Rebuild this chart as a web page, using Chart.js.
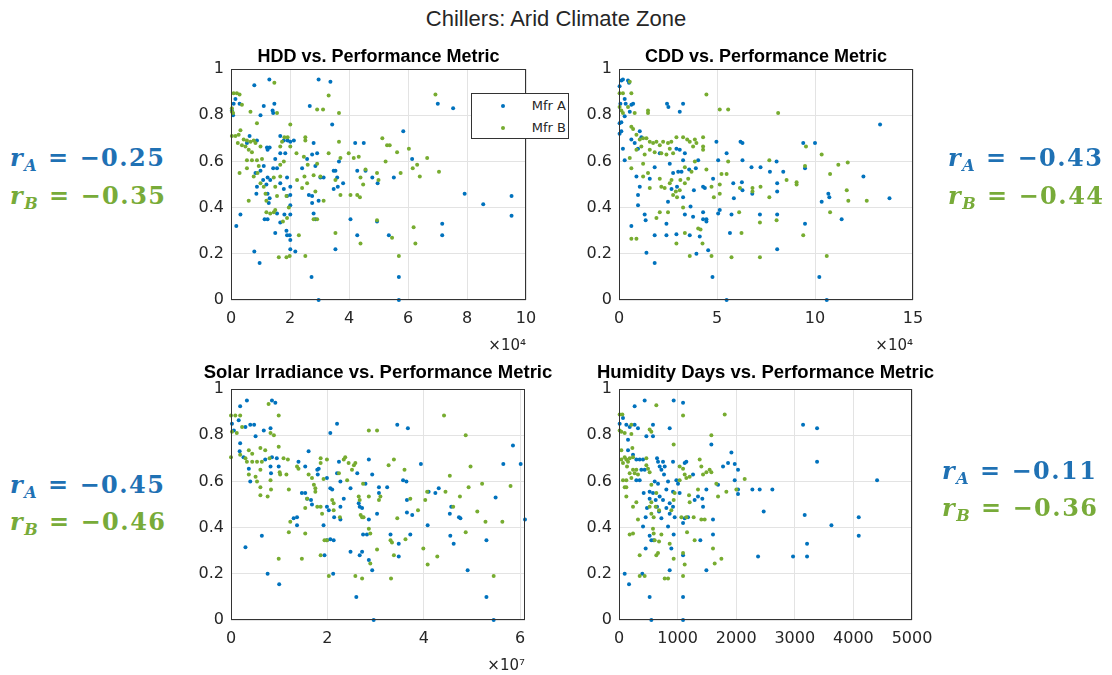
<!DOCTYPE html>
<html>
<head>
<meta charset="utf-8">
<script src="https://cdn.jsdelivr.net/npm/chart.js@4.4.0/dist/chart.umd.min.js"></script>
<style>
    body { margin: 0; width: 1112px; height: 675px; background: #fff; position: relative; overflow: hidden; font-family: "Liberation Sans", Arial, sans-serif; }
    canvas { position: absolute; }
    #mainTitle { position: absolute; left: 0; top: 6px; width: 1112px; text-align: center; font-size: 22px; line-height: 25px; color: #262626; }
    .rval { position: absolute; font-family: "DejaVu Serif", serif; font-weight: bold; font-size: 24px; line-height: 26px; letter-spacing: 1.5px; white-space: nowrap; }
    .rval sub { font-size: 16px; line-height: 0; vertical-align: -5px; }
    .blue { color: #1f71b4; }
    .green { color: #78ab39; }
    #legend { position: absolute; left: 471px; top: 93px; width: 98px; height: 46px; box-sizing: border-box; border: 1px solid #333; background: #fff; font-family: "DejaVu Sans", sans-serif; font-size: 13px; color: #262626; }
    #legend .row { position: absolute; left: 0; width: 96px; height: 16px; line-height: 16px; }
    #legend .dot { position: absolute; left: 29px; top: 6px; width: 4px; height: 4px; border-radius: 2px; }
    #legend .txt { position: absolute; right: 2px; top: 0; }
</style>
</head>
<body>
<div id="mainTitle">Chillers: Arid Climate Zone</div>

<canvas id="hddChart" width="395" height="315" style="left:181px;top:40px"></canvas>
<canvas id="cddChart" width="394" height="315" style="left:569px;top:40px"></canvas>
<canvas id="solarChart" width="394" height="315" style="left:181px;top:360px"></canvas>
<canvas id="humChart" width="393" height="315" style="left:569px;top:360px"></canvas>

<div id="legend">
    <div class="row" style="top:4px"><span class="dot" style="background:#0072BD"></span><span class="txt">Mfr A</span></div>
    <div class="row" style="top:26px"><span class="dot" style="background:#77AC30"></span><span class="txt">Mfr B</span></div>
</div>

<div class="rval blue" style="left:10px;top:145px"><i>r</i><sub><i>A</i></sub> = −0.25</div>
<div class="rval green" style="left:10px;top:183px"><i>r</i><sub><i>B</i></sub> = −0.35</div>
<div class="rval blue" style="left:948px;top:145px"><i>r</i><sub><i>A</i></sub> = −0.43</div>
<div class="rval green" style="left:948px;top:183px"><i>r</i><sub><i>B</i></sub> = −0.44</div>
<div class="rval blue" style="left:10px;top:472px"><i>r</i><sub><i>A</i></sub> = −0.45</div>
<div class="rval green" style="left:10px;top:509px"><i>r</i><sub><i>B</i></sub> = −0.46</div>
<div class="rval blue" style="left:942px;top:458px"><i>r</i><sub><i>A</i></sub> = −0.11</div>
<div class="rval green" style="left:942px;top:495px"><i>r</i><sub><i>B</i></sub> = −0.36</div>

<script>
// Colours of the two manufacturers (MATLAB default order)
var blueDot = "#0072BD";
var greenDot = "#77AC30";

// y axis is the same for every panel
var yTicks = [0, 0.2, 0.4, 0.6, 0.8, 1];

// HDD panel, x in units of 1e4
var hddMfrA = [
    [0.09,0.85],[0.15,0.87],[0.29,0.85],[0.03,0.82],[0.07,0.80],[0.79,0.93],[1.30,0.955],[1.47,0.85],[1.41,0.82],[1.43,0.81],
    [1.11,0.84],[1.00,0.80],[2.97,0.955],[3.37,0.945],[2.67,0.84],[3.43,0.76],[7.01,0.85],[7.53,0.83],[5.84,0.73],
    [0.63,0.71],[0.88,0.69],[0.54,0.68],[1.22,0.66],[1.24,0.65],[1.31,0.66],[1.67,0.71],[1.79,0.69],[1.92,0.69],[2.01,0.685],
    [2.13,0.69],[1.67,0.635],[1.84,0.635],[1.50,0.61],[1.43,0.57],[1.56,0.57],[1.11,0.58],[1.00,0.56],[0.83,0.55],[0.88,0.49],
    [0.86,0.46],[1.09,0.52],[1.24,0.53],[1.33,0.52],[1.20,0.50],[1.24,0.46],[1.31,0.44],[1.28,0.42],[1.67,0.505],[1.90,0.53],
    [1.79,0.48],[1.90,0.45],[2.01,0.49],[2.01,0.455],[2.01,0.41],[2.01,0.37],[1.81,0.37],[1.56,0.375],[1.14,0.35],[1.24,0.35],
    [1.67,0.335],[1.50,0.29],[1.88,0.30],[1.90,0.28],[1.99,0.28],[2.01,0.22],[2.18,0.21],[0.79,0.21],[0.97,0.16],[0.18,0.32],
    [0.32,0.37],[2.73,0.10],[2.97,0.0],[2.01,0.26],
    [2.41,0.57],[2.58,0.61],[2.75,0.63],[2.80,0.68],[2.86,0.58],[2.92,0.635],[2.75,0.45],[2.64,0.455],[2.80,0.375],[2.75,0.42],
    [2.86,0.35],[2.97,0.43],[3.03,0.53],[3.14,0.53],[3.48,0.56],[3.54,0.56],[3.48,0.48],[3.62,0.49],[3.80,0.505],[3.60,0.53],
    [3.66,0.60],[3.54,0.22],[4.05,0.35],[4.21,0.68],[4.50,0.68],[4.28,0.56],[4.56,0.56],[4.28,0.28],[4.79,0.53],[4.97,0.505],
    [4.95,0.34],[5.52,0.53],[5.35,0.28],[6.14,0.61],[5.69,0.10],[5.69,0.0],[7.16,0.33],[7.16,0.28],[7.92,0.46],[8.55,0.415],
    [9.51,0.45],[9.51,0.365]
];
var hddMfrB = [
    [0.09,0.895],[0.20,0.895],[0.29,0.89],[0.03,0.83],[0.03,0.815],[0.07,0.81],[0.37,0.845],[0.66,0.815],[0.88,0.765],
    [0.03,0.71],[0.15,0.71],[0.26,0.715],[0.32,0.735],[0.43,0.695],[0.54,0.69],[0.66,0.685],[0.77,0.69],[0.83,0.68],[1.00,0.665],
    [0.23,0.68],[0.37,0.67],[0.49,0.665],[0.60,0.65],[0.71,0.64],[0.54,0.605],[0.71,0.605],[0.88,0.605],[1.05,0.61],[0.54,0.57],
    [0.94,0.58],[0.29,0.55],[0.60,0.43],[0.77,0.535],[0.90,0.55],[1.00,0.505],[1.11,0.49],[1.17,0.46],[1.20,0.43],[1.20,0.38],
    [1.33,0.375],[1.45,0.38],[1.50,0.39],[1.45,0.53],[1.50,0.49],[1.56,0.45],[1.67,0.535],[1.67,0.585],[1.79,0.60],[1.67,0.665],
    [1.73,0.685],[1.81,0.705],[1.92,0.705],[2.01,0.665],[2.01,0.76],[1.56,0.81],[1.47,0.94],[1.62,0.185],[1.88,0.185],[1.99,0.19],
    [2.30,0.28],[2.52,0.19],[1.76,0.34],[1.90,0.355],[1.96,0.40],[1.88,0.45],[2.24,0.52],[2.22,0.635],[2.47,0.62],[2.52,0.705],
    [2.52,0.69],[2.60,0.585],[2.49,0.535],[2.41,0.485],[2.58,0.505],[2.80,0.54],[2.92,0.59],[3.03,0.535],[2.86,0.47],[3.14,0.43],
    [2.80,0.35],[2.92,0.35],[2.92,0.825],[3.12,0.825],[3.31,0.885],[3.66,0.81],[3.31,0.635],[3.66,0.685],[3.71,0.615],[3.54,0.52],
    [3.71,0.455],[3.54,0.29],[3.99,0.635],[4.16,0.615],[4.33,0.62],[4.05,0.455],[4.28,0.455],[4.37,0.445],[4.39,0.53],[4.39,0.245],
    [4.48,0.50],[4.56,0.565],[4.95,0.55],[5.00,0.52],[4.95,0.345],[5.13,0.70],[5.24,0.60],[5.29,0.67],[5.38,0.67],[5.46,0.27],
    [5.63,0.64],[5.69,0.19],[5.75,0.55],[6.03,0.655],[6.16,0.57],[6.19,0.315],[6.25,0.245],[6.31,0.585],[6.40,0.535],[6.65,0.615],
    [6.93,0.89],[7.05,0.555]
];

// CDD panel, x in units of 1e4
var cddMfrA = [
    [0.12,0.95],[0.20,0.955],[0.46,0.95],[0.51,0.94],[0.03,0.925],[0.07,0.85],[0.29,0.87],[0.34,0.85],[0.03,0.765],[0.12,0.77],
    [0.03,0.72],[0.12,0.73],[0.29,0.795],[0.55,0.815],[0.63,0.845],[0.72,0.85],[0.20,0.655],[0.29,0.605],[0.63,0.695],[0.80,0.68],
    [0.97,0.655],[1.06,0.73],[1.14,0.705],[0.89,0.535],[1.06,0.49],[0.97,0.455],[0.97,0.41],[1.31,0.37],[1.36,0.345],[0.63,0.32],
    [1.40,0.205],[1.82,0.16],[1.82,0.28],[1.57,0.525],[1.82,0.575],[2.08,0.635],[2.45,0.85],[2.52,0.835],[2.42,0.33],[2.42,0.28],
    [2.50,0.425],[2.68,0.48],[2.76,0.55],[2.59,0.59],[2.93,0.285],[3.10,0.815],[3.27,0.85],[2.93,0.655],[3.10,0.65],[3.27,0.605],
    [3.36,0.635],[3.02,0.555],[3.19,0.555],[2.96,0.49],[3.27,0.445],[3.36,0.37],[3.58,0.565],[3.65,0.405],[3.61,0.28],[3.82,0.475],
    [3.92,0.57],[4.04,0.605],[3.78,0.36],[3.95,0.20],[4.12,0.275],[4.29,0.49],[4.38,0.485],[4.29,0.38],[4.29,0.35],[4.46,0.35],
    [4.46,0.34],[4.55,0.215],[4.77,0.10],[4.80,0.525],[4.97,0.685],[5.06,0.375],[5.06,0.605],[5.14,0.39],[5.49,0.635],[5.49,0.0],
    [5.66,0.29],[5.74,0.37],[5.83,0.505],[5.86,0.44],[6.20,0.685],[6.30,0.68],[6.30,0.605],[6.27,0.51],[6.30,0.475],[6.76,0.575],
    [6.80,0.46],[7.19,0.37],[7.22,0.575],[7.70,0.555],[8.04,0.60],[8.07,0.505],[8.07,0.47],[8.07,0.37],[8.07,0.22],[8.38,0.555],
    [9.40,0.68],[9.49,0.57],[9.49,0.33],[10.00,0.68],[10.22,0.10],[10.34,0.425],[10.60,0.0],[10.68,0.46],[10.73,0.445],[11.36,0.35],
    [12.47,0.535],[13.32,0.76],[13.80,0.44]
];
var cddMfrB = [
    [0.03,0.895],[0.20,0.895],[0.03,0.835],[0.12,0.82],[0.46,0.835],[0.20,0.81],[0.63,0.895],[0.55,0.945],[0.80,0.81],[0.63,0.75],
    [0.72,0.74],[1.48,0.82],[1.48,0.81],[0.89,0.715],[1.06,0.695],[1.23,0.70],[1.40,0.70],[1.57,0.685],[1.74,0.68],[1.91,0.685],
    [2.08,0.67],[2.25,0.685],[2.50,0.68],[2.67,0.685],[2.93,0.705],[3.27,0.705],[3.48,0.695],[3.61,0.685],[3.87,0.695],[3.95,0.68],
    [3.78,0.665],[0.89,0.65],[1.14,0.665],[1.31,0.63],[1.57,0.65],[1.82,0.64],[2.16,0.635],[2.42,0.63],[2.59,0.655],[2.76,0.635],
    [0.55,0.615],[0.63,0.57],[1.23,0.59],[1.48,0.55],[1.23,0.535],[1.57,0.485],[2.08,0.525],[2.16,0.49],[2.33,0.485],[2.59,0.505],
    [2.68,0.52],[2.76,0.455],[2.90,0.47],[2.96,0.445],[3.10,0.475],[3.13,0.52],[3.36,0.505],[3.53,0.525],[3.70,0.555],[3.87,0.60],
    [3.36,0.575],[3.27,0.40],[2.08,0.38],[2.50,0.38],[1.91,0.355],[0.63,0.265],[0.89,0.265],[2.93,0.245],[3.36,0.29],[3.61,0.19],
    [4.04,0.31],[4.16,0.305],[4.26,0.245],[4.72,0.19],[4.29,0.705],[4.29,0.665],[4.29,0.65],[4.46,0.565],[4.72,0.49],[4.84,0.445],
    [4.46,0.89],[5.14,0.825],[5.57,0.825],[5.14,0.50],[5.14,0.46],[5.23,0.545],[5.49,0.545],[5.57,0.60],[5.74,0.185],[6.17,0.485],
    [6.13,0.38],[6.25,0.29],[6.81,0.485],[6.81,0.47],[7.19,0.335],[7.19,0.185],[7.22,0.49],[7.67,0.605],[7.67,0.445],[8.04,0.345],
    [8.12,0.81],[8.55,0.52],[9.06,0.51],[9.06,0.50],[9.40,0.28],[9.49,0.58],[9.54,0.665],[10.34,0.63],[10.60,0.19],[10.77,0.545],
    [10.77,0.38],[11.19,0.585],[11.67,0.595],[11.62,0.475],[11.70,0.43],[12.64,0.43]
];

// Solar irradiance panel, x in units of 1e7
var solarMfrA = [
    [0.02,0.85],[0.06,0.82],[0.16,0.865],[0.19,0.925],[0.33,0.95],[0.30,0.835],[0.40,0.845],[0.48,0.845],[0.51,0.795],[0.19,0.765],
    [0.18,0.73],[0.26,0.705],[0.37,0.655],[0.40,0.60],[0.30,0.315],[0.64,0.365],[0.68,0.82],[0.82,0.83],[0.85,0.95],[0.92,0.94],
    [0.76,0.20],[1.00,0.155],[0.71,0.695],[0.82,0.665],[0.83,0.635],[0.85,0.705],[0.95,0.70],[0.99,0.665],[1.30,0.44],[1.37,0.41],
    [1.40,0.685],[1.37,0.445],[1.47,0.55],[1.54,0.55],[1.58,0.525],[1.61,0.73],[1.66,0.52],[1.68,0.50],[1.54,0.665],[1.79,0.65],
    [1.80,0.63],[1.82,0.655],[1.92,0.41],[1.94,0.28],[1.99,0.49],[1.99,0.615],[2.06,0.57],[2.10,0.565],[2.06,0.35],[2.13,0.345],
    [1.99,0.345],[2.06,0.81],[2.20,0.85],[2.12,0.20],[2.03,0.475],[2.14,0.445],[2.24,0.685],[2.20,0.635],[2.27,0.49],[2.27,0.435],
    [2.27,0.60],[2.34,0.525],[2.48,0.295],[2.48,0.57],[2.62,0.635],[2.60,0.10],[2.65,0.505],[2.67,0.49],[2.72,0.485],[2.67,0.28],
    [2.72,0.295],[2.74,0.37],[2.82,0.37],[2.79,0.59],[2.86,0.695],[2.86,0.435],[2.86,0.26],[2.93,0.63],[2.93,0.215],[2.96,0.0],
    [3.03,0.46],[3.07,0.55],[3.07,0.575],[3.24,0.575],[3.31,0.37],[3.48,0.33],[3.48,0.275],[3.45,0.845],[3.57,0.605],[3.64,0.60],
    [3.65,0.52],[3.65,0.465],[3.67,0.83],[3.72,0.37],[3.76,0.455],[3.94,0.675],[4.08,0.41],[4.10,0.555],[4.24,0.55],[4.31,0.57],
    [4.54,0.46],[4.55,0.365],[4.57,0.49],[4.62,0.33],[4.73,0.445],[4.76,0.44],[4.91,0.215],[5.30,0.345],[5.30,0.10],[5.49,0.53],
    [5.45,0.0],[5.65,0.675],[5.85,0.755],[6.01,0.675],[6.10,0.435]
];
var solarMfrB = [
    [0.00,0.885],[0.09,0.885],[0.19,0.885],[0.02,0.815],[0.12,0.81],[0.23,0.835],[0.00,0.705],[0.19,0.715],[0.30,0.70],[0.37,0.735],
    [0.44,0.72],[0.33,0.685],[0.44,0.685],[0.54,0.685],[0.64,0.685],[0.61,0.65],[0.37,0.63],[0.51,0.62],[0.54,0.60],[0.61,0.575],
    [0.61,0.54],[0.76,0.535],[0.71,0.735],[0.61,0.745],[0.80,0.70],[0.82,0.605],[0.83,0.565],[0.78,0.935],[0.82,0.81],[0.89,0.80],
    [0.99,0.885],[0.99,0.75],[1.01,0.64],[1.02,0.63],[1.09,0.70],[1.18,0.695],[1.15,0.63],[1.20,0.565],[1.20,0.38],[1.23,0.425],
    [0.99,0.265],[1.37,0.665],[1.40,0.655],[1.47,0.265],[1.54,0.375],[1.54,0.485],[1.58,0.525],[1.61,0.63],[1.68,0.615],[1.72,0.585],
    [1.75,0.57],[1.75,0.555],[1.79,0.49],[1.86,0.49],[1.86,0.70],[1.86,0.68],[1.92,0.61],[1.89,0.46],[1.86,0.28],[1.99,0.695],
    [1.94,0.345],[1.99,0.345],[2.03,0.19],[2.10,0.52],[2.13,0.505],[2.13,0.475],[2.24,0.635],[2.26,0.445],[2.34,0.695],[2.37,0.705],
    [2.41,0.605],[2.44,0.68],[2.51,0.65],[2.55,0.67],[2.58,0.68],[2.58,0.19],[2.65,0.535],[2.67,0.52],[2.69,0.455],[2.72,0.445],
    [2.75,0.445],[2.72,0.18],[2.74,0.59],[2.86,0.535],[2.86,0.395],[2.89,0.375],[2.89,0.245],[2.86,0.82],[3.03,0.82],[3.03,0.305],
    [3.07,0.52],[3.10,0.535],[3.27,0.67],[3.31,0.345],[3.34,0.335],[3.32,0.18],[3.38,0.695],[3.38,0.28],[3.45,0.44],[3.60,0.65],
    [3.62,0.35],[3.72,0.525],[3.88,0.475],[3.99,0.31],[4.03,0.52],[4.07,0.555],[4.08,0.24],[4.28,0.275],[4.42,0.885],[4.45,0.555],
    [4.54,0.625],[4.61,0.49],[4.75,0.535],[4.87,0.80],[4.87,0.38],[4.97,0.665],[4.93,0.575],[5.11,0.47],[5.21,0.59],[5.28,0.425],
    [5.45,0.19],[5.63,0.425],[5.80,0.58]
];

// Humidity days panel, x in days
var humMfrA = [
    [11,0.85],[68,0.875],[125,0.845],[182,0.835],[267,0.925],[267,0.845],[324,0.83],[438,0.95],[467,0.795],[580,0.845],
    [580,0.795],[865,0.83],[933,0.95],[1093,0.94],[154,0.78],[154,0.735],[239,0.715],[296,0.695],[353,0.695],[410,0.695],
    [381,0.65],[438,0.65],[353,0.605],[296,0.605],[421,0.55],[523,0.525],[478,0.485],[455,0.445],[410,0.405],[455,0.31],
    [398,0.20],[97,0.20],[171,0.155],[523,0.10],[552,0.0],[523,0.365],[552,0.345],[592,0.345],[649,0.70],[666,0.685],
    [694,0.665],[723,0.65],[751,0.685],[780,0.665],[768,0.63],[609,0.60],[666,0.59],[523,0.555],[580,0.55],[626,0.52],
    [649,0.49],[683,0.47],[723,0.44],[751,0.52],[694,0.535],[808,0.565],[837,0.60],[865,0.505],[865,0.46],[808,0.485],
    [837,0.405],[922,0.685],[922,0.555],[922,0.49],[950,0.445],[933,0.37],[893,0.31],[865,0.215],[979,0.605],[1007,0.59],
    [1035,0.55],[1093,0.42],[1121,0.44],[1121,0.68],[1149,0.685],[1093,0.28],[1093,0.10],[1093,0.0],[1178,0.445],[1263,0.63],
    [1291,0.52],[1348,0.535],[1388,0.345],[1422,0.525],[1434,0.49],[1491,0.565],[1491,0.215],[1604,0.37],[1604,0.435],[1576,0.76],
    [1690,0.585],[1775,0.665],[1861,0.68],[1918,0.725],[1975,0.675],[1975,0.605],[2031,0.65],[2031,0.565],[2031,0.545],[2276,0.565],
    [2401,0.565],[2469,0.47],[2373,0.275],[2617,0.565],[2970,0.275],[3141,0.845],[3169,0.455],[3209,0.33],[3209,0.275],[3380,0.83],
    [3380,0.685],[3625,0.41],[4091,0.445],[4091,0.365],[4404,0.605]
];
var humMfrB = [
    [11,0.89],[57,0.89],[11,0.82],[40,0.815],[97,0.81],[211,0.845],[211,0.805],[523,0.825],[552,0.815],[637,0.93],
    [933,0.76],[1093,0.885],[1804,0.89],[1576,0.80],[40,0.735],[97,0.705],[125,0.695],[154,0.685],[182,0.70],[228,0.745],
    [239,0.705],[40,0.695],[68,0.68],[137,0.665],[182,0.635],[211,0.615],[239,0.65],[267,0.635],[296,0.65],[324,0.63],
    [68,0.605],[125,0.605],[97,0.575],[125,0.575],[125,0.535],[239,0.49],[239,0.375],[182,0.37],[296,0.51],[324,0.435],
    [353,0.28],[353,0.19],[438,0.19],[467,0.70],[495,0.655],[467,0.67],[523,0.64],[552,0.585],[552,0.51],[523,0.49],
    [552,0.46],[592,0.445],[580,0.395],[592,0.375],[609,0.345],[637,0.28],[666,0.29],[683,0.34],[637,0.55],[626,0.49],
    [683,0.475],[723,0.37],[780,0.18],[837,0.18],[865,0.33],[893,0.475],[933,0.52],[950,0.55],[933,0.265],[1035,0.605],
    [1035,0.665],[1093,0.655],[1121,0.63],[1064,0.445],[1093,0.29],[1093,0.19],[1121,0.24],[1149,0.445],[1149,0.615],[1206,0.62],
    [1195,0.54],[1206,0.51],[1161,0.38],[1274,0.445],[1291,0.345],[1377,0.695],[1405,0.665],[1434,0.63],[1348,0.565],[1405,0.435],
    [1462,0.435],[1491,0.64],[1547,0.65],[1576,0.64],[1604,0.31],[1633,0.245],[1661,0.59],[1690,0.535],[1747,0.265],[1832,0.555],
    [2003,0.565],[2145,0.61]
];

Chart.defaults.font.family = "DejaVu Sans";
Chart.defaults.color = "#262626";

// Draws the closed box round the plot area, like MATLAB's "box on"
var boxPlugin = {
    id: "plotBox",
    afterDatasetsDraw: function (chart) {
        var a = chart.chartArea;
        var ctx = chart.ctx;
        ctx.save();
        ctx.strokeStyle = "#333333";
        ctx.lineWidth = 1;
        ctx.strokeRect(Math.round(a.left) + 0.5, Math.round(a.top) + 0.5,
            Math.round(a.right - a.left) - 1, Math.round(a.bottom - a.top) - 1);
        ctx.restore();
    }
};

// An empty right axis keeps 50px on each side of the plot, so the title stays centred on it
function makePanel(id, titleText, titleSize, titlePad, dataA, dataB, xMax, xStep, xTitle) {
    var ctx = document.getElementById(id).getContext("2d");
    return new Chart(ctx, {
        type: "scatter",
        data: {
            datasets: [
                { label: "Mfr A", data: dataA, backgroundColor: blueDot, pointRadius: 2, borderWidth: 0, clip: 4, order: 2 },
                { label: "Mfr B", data: dataB, backgroundColor: greenDot, pointRadius: 2, borderWidth: 0, clip: 4, order: 1 }
            ]
        },
        options: {
            responsive: false,
            animation: false,
            events: [],
            layout: { padding: 0 },
            plugins: {
                legend: { display: false },
                tooltip: { enabled: false },
                title: {
                    display: true,
                    text: titleText,
                    color: "#000",
                    font: { family: "Liberation Sans", size: titleSize, weight: "bold", lineHeight: 1 },
                    padding: titlePad
                }
            },
            scales: {
                x: {
                    type: "linear",
                    min: 0,
                    max: xMax,
                    border: { display: false },
                    grid: { color: "#e3e3e3", drawTicks: false },
                    ticks: {
                        stepSize: xStep,
                        includeBounds: false,
                        autoSkip: false,
                        maxRotation: 0,
                        padding: 9,
                        font: { size: 16 },
                        callback: function (v) { return String(v); }
                    },
                    title: {
                        display: xTitle !== "",
                        text: xTitle,
                        align: "end",
                        padding: 0,
                        font: { size: 15 }
                    },
                    afterFit: function (scale) { scale.height = 55; }
                },
                y: {
                    min: 0,
                    max: 1,
                    border: { display: false },
                    grid: { color: "#e3e3e3", drawTicks: false },
                    afterBuildTicks: function (scale) {
                        scale.ticks = yTicks.map(function (v) { return { value: v }; });
                    },
                    ticks: {
                        padding: 7,
                        font: { size: 16 },
                        callback: function (v) { return String(v); }
                    },
                    afterFit: function (scale) { scale.width = 50; }
                },
                yRight: {
                    position: "right",
                    min: 0,
                    max: 1,
                    border: { display: false },
                    grid: { display: false },
                    ticks: { display: false },
                    afterFit: function (scale) { scale.width = 50; }
                }
            }
        },
        plugins: [boxPlugin]
    });
}

makePanel("hddChart", "HDD vs. Performance Metric", 18, { top: 8, bottom: 3 }, hddMfrA, hddMfrB, 10, 2, "×10⁴");
makePanel("cddChart", "CDD vs. Performance Metric", 18, { top: 8, bottom: 3 }, cddMfrA, cddMfrB, 15, 5, "×10⁴");
makePanel("solarChart", "Solar Irradiance vs. Performance Metric", 18.5, { top: 4, bottom: 6.5 }, solarMfrA, solarMfrB, 6.1, 2, "×10⁷");
makePanel("humChart", "Humidity Days vs. Performance Metric", 18.5, { top: 4, bottom: 6.5 }, humMfrA, humMfrB, 5000, 1000, "");
</script>
</body>
</html>
